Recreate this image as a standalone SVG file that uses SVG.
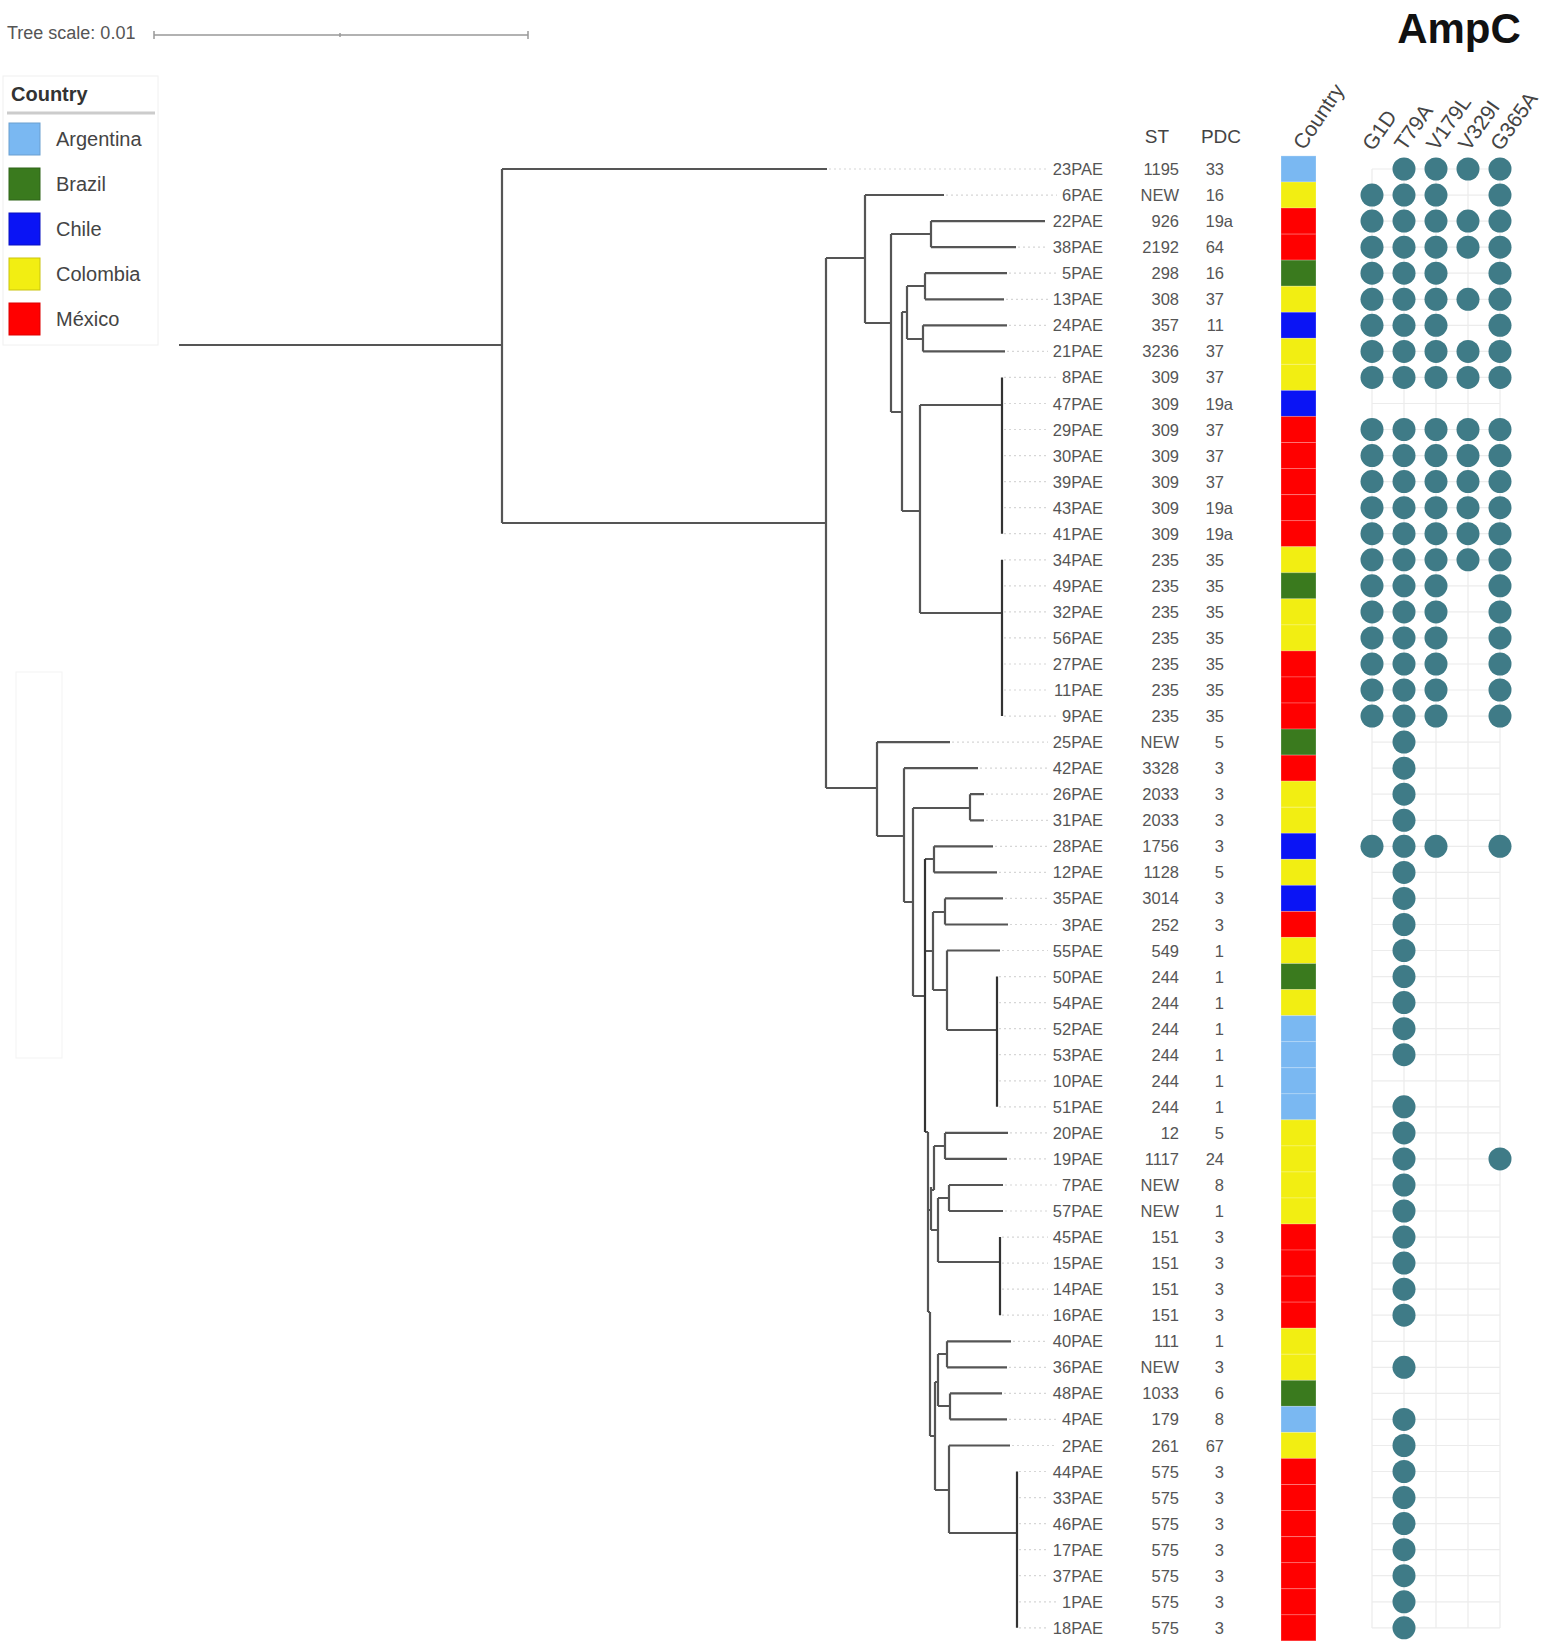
<svg xmlns="http://www.w3.org/2000/svg" width="1559" height="1651" viewBox="0 0 1559 1651">
<style>
.t{font-family:"Liberation Sans",Arial,sans-serif;font-size:16.5px;fill:#555}
.e{text-anchor:end}
.h{font-family:"Liberation Sans",Arial,sans-serif;font-size:20px;fill:#444}
.r{font-family:"Liberation Sans",Arial,sans-serif;font-size:21px;fill:#444}
.d{fill:#3f7b87}
.AR{fill:#7ab8f2}.BR{fill:#3a7a1e}.CL{fill:#0a14f5}.CO{fill:#f2ee12}.MX{fill:#ff0000}
.cell{stroke:#ffffff;stroke-opacity:0.25;stroke-width:1}
.tree{fill:none;stroke:#555;stroke-width:2.2}
.pol{fill:none;stroke:#333;stroke-width:2.2}
.lead{stroke:#d6d6d6;stroke-width:1.2;stroke-dasharray:2 3}
.g{stroke:#ececec;stroke-width:1.2;fill:none}
</style>
<rect width="1559" height="1651" fill="#fff"/>
<g id="tree-scale">
<text x="7" y="39" style="font-family:'Liberation Sans',Arial,sans-serif;font-size:18px;fill:#555">Tree scale: 0.01</text>
<path d="M154 35H528M154 31V39M528 31V39M340 33V37" stroke="#999" stroke-width="1.5" fill="none"/>
</g>
<text id="title" x="1459" y="43" text-anchor="middle" style="font-family:'Liberation Sans',Arial,sans-serif;font-size:42px;font-weight:bold;fill:#111">AmpC</text>
<g id="legend">
<rect x="3" y="76" width="155" height="269" fill="none" stroke="#f0f0f0"/>
<text x="11" y="101" style="font-family:'Liberation Sans',Arial,sans-serif;font-size:20px;font-weight:bold;fill:#333">Country</text>
<line x1="7" y1="113" x2="155" y2="113" stroke="#ccc" stroke-width="3"/>
<rect class="AR" x="9" y="123" width="31" height="32" stroke="#6a9fd0"/>
<rect class="BR" x="9" y="168" width="31" height="32" stroke="#2f6418"/>
<rect class="CL" x="9" y="213" width="31" height="32" stroke="#0810c0"/>
<rect class="CO" x="9" y="258" width="31" height="32" stroke="#c9c40e"/>
<rect class="MX" x="9" y="303" width="31" height="32" stroke="#d00"/>
<text class="h" x="56" y="146">Argentina</text>
<text class="h" x="56" y="191">Brazil</text>
<text class="h" x="56" y="236">Chile</text>
<text class="h" x="56" y="281">Colombia</text>
<text class="h" x="56" y="326">México</text>
</g>
<rect id="faint-box" x="16" y="672" width="46" height="386" fill="none" stroke="#f3f3f3"/>
<g id="headers">
<text x="1157" y="143" text-anchor="middle" style="font-family:'Liberation Sans',Arial,sans-serif;font-size:19px;fill:#444">ST</text>
<text x="1221" y="143" text-anchor="middle" style="font-family:'Liberation Sans',Arial,sans-serif;font-size:19px;fill:#444">PDC</text>
<text class="r" transform="translate(1304,151) rotate(-56)">Country</text>
<text class="r" transform="translate(1373,152) rotate(-55)">G1D</text>
<text class="r" transform="translate(1405,152) rotate(-55)">T79A</text>
<text class="r" transform="translate(1437,152) rotate(-55)">V179L</text>
<text class="r" transform="translate(1469,152) rotate(-55)">V329I</text>
<text class="r" transform="translate(1501,152) rotate(-55)">G365A</text>
</g>
<g id="grid">
<path class="g" d="M1372 169V1628M1404 169V1628M1436 169V1628M1468 169V1628M1500 169V1628"/>
</g>
<g id="connectors">
<path class="tree" d="M179 345H502M502 169V523M502 169H827M502 523H826
M826 258V788M826 258H865M865 195V323M865 195H944M865 323H891M891 234V412M891 234H931M931 221.1V247.2M931 221.1H1045M931 247.2H1016M891 412H902M902 312V511M902 312H907M907 286V339M907 286H925M925 273.2V299.3M925 273.2H1007M925 299.3H1004M907 339H923M923 325.3V351.4M923 325.3H1007M923 351.4H1005M902 511H920M920 405V613M920 405H1002M920 613H1002
M826 788H877M877 742.1V836M877 742.1H950M877 836H904M904 768.2V902M904 768.2H978M904 902H913M913 808V996M913 808H970M970 794.2V820.3M970 794.2H984M970 820.3H984M913 996H925
M925 859H934M934 846.3V872.4M934 846.3H993M934 872.4H997M925 951H933M933 912V990M933 912H945M945 898.4V924.5M945 898.4H1003M945 924.5H1008M933 990H947M947 950.5V1030M947 950.5H1000M947 1030H997
M925 1132H928M928 1132V1312M928 1210H931M931 1187V1230M931 1190H934M934 1146V1190M934 1146H945M945 1132.9V1158.9M945 1132.9H1008M945 1158.9H1007M931 1230H938M938 1198V1262M938 1198H949M949 1185V1211M949 1185H1003M949 1211H1003M938 1262H1000
M928 1312H930M930 1312V1436M930 1436H935M935 1382V1490M935 1382H938M938 1354V1406M938 1354H947M947 1341.3V1367.3M947 1341.3H1011M947 1367.3H1007M938 1406H950M950 1393.4V1419.4M950 1393.4H1002M950 1419.4H1007M935 1490H949M949 1445.5V1533M949 1445.5H1010M949 1533H1017"/>
<path class="pol" d="M925 859V1132M1002 377.4V533.7M1002 559.8V716.1M997 976.6V1106.8M1000 1237.1V1315.2M1017 1471.5V1627.8"/>
</g>
<g id="leaves">
<g id="n23PAE" transform="translate(0,169)"><path class="lead" d="M829 0H1048"/><path class="g" d="M1372 0H1500"/><text class="t e" x="1103" y="6">23PAE</text><text class="t e" x="1179" y="6">1195</text><text class="t e" x="1224" y="6">33</text><rect class="AR cell" x="1281" y="-13.1" width="35" height="26.2"/><circle class="d" cx="1404" r="11.5"/><circle class="d" cx="1436" r="11.5"/><circle class="d" cx="1468" r="11.5"/><circle class="d" cx="1500" r="11.5"/></g>
<g id="n6PAE" transform="translate(0,195.1)"><path class="lead" d="M946 0H1057"/><path class="g" d="M1372 0H1500"/><text class="t e" x="1103" y="6">6PAE</text><text class="t e" x="1179" y="6">NEW</text><text class="t e" x="1224" y="6">16</text><rect class="CO cell" x="1281" y="-13.1" width="35" height="26.2"/><circle class="d" cx="1372" r="11.5"/><circle class="d" cx="1404" r="11.5"/><circle class="d" cx="1436" r="11.5"/><circle class="d" cx="1500" r="11.5"/></g>
<g id="n22PAE" transform="translate(0,221.1)"><path class="g" d="M1372 0H1500"/><text class="t e" x="1103" y="6">22PAE</text><text class="t e" x="1179" y="6">926</text><text class="t e" x="1233" y="6">19a</text><rect class="MX cell" x="1281" y="-13.1" width="35" height="26.2"/><circle class="d" cx="1372" r="11.5"/><circle class="d" cx="1404" r="11.5"/><circle class="d" cx="1436" r="11.5"/><circle class="d" cx="1468" r="11.5"/><circle class="d" cx="1500" r="11.5"/></g>
<g id="n38PAE" transform="translate(0,247.2)"><path class="lead" d="M1018 0H1048"/><path class="g" d="M1372 0H1500"/><text class="t e" x="1103" y="6">38PAE</text><text class="t e" x="1179" y="6">2192</text><text class="t e" x="1224" y="6">64</text><rect class="MX cell" x="1281" y="-13.1" width="35" height="26.2"/><circle class="d" cx="1372" r="11.5"/><circle class="d" cx="1404" r="11.5"/><circle class="d" cx="1436" r="11.5"/><circle class="d" cx="1468" r="11.5"/><circle class="d" cx="1500" r="11.5"/></g>
<g id="n5PAE" transform="translate(0,273.2)"><path class="lead" d="M1009 0H1057"/><path class="g" d="M1372 0H1500"/><text class="t e" x="1103" y="6">5PAE</text><text class="t e" x="1179" y="6">298</text><text class="t e" x="1224" y="6">16</text><rect class="BR cell" x="1281" y="-13.1" width="35" height="26.2"/><circle class="d" cx="1372" r="11.5"/><circle class="d" cx="1404" r="11.5"/><circle class="d" cx="1436" r="11.5"/><circle class="d" cx="1500" r="11.5"/></g>
<g id="n13PAE" transform="translate(0,299.3)"><path class="lead" d="M1006 0H1048"/><path class="g" d="M1372 0H1500"/><text class="t e" x="1103" y="6">13PAE</text><text class="t e" x="1179" y="6">308</text><text class="t e" x="1224" y="6">37</text><rect class="CO cell" x="1281" y="-13.1" width="35" height="26.2"/><circle class="d" cx="1372" r="11.5"/><circle class="d" cx="1404" r="11.5"/><circle class="d" cx="1436" r="11.5"/><circle class="d" cx="1468" r="11.5"/><circle class="d" cx="1500" r="11.5"/></g>
<g id="n24PAE" transform="translate(0,325.3)"><path class="lead" d="M1009 0H1048"/><path class="g" d="M1372 0H1500"/><text class="t e" x="1103" y="6">24PAE</text><text class="t e" x="1179" y="6">357</text><text class="t e" x="1224" y="6">11</text><rect class="CL cell" x="1281" y="-13.1" width="35" height="26.2"/><circle class="d" cx="1372" r="11.5"/><circle class="d" cx="1404" r="11.5"/><circle class="d" cx="1436" r="11.5"/><circle class="d" cx="1500" r="11.5"/></g>
<g id="n21PAE" transform="translate(0,351.4)"><path class="lead" d="M1007 0H1048"/><path class="g" d="M1372 0H1500"/><text class="t e" x="1103" y="6">21PAE</text><text class="t e" x="1179" y="6">3236</text><text class="t e" x="1224" y="6">37</text><rect class="CO cell" x="1281" y="-13.1" width="35" height="26.2"/><circle class="d" cx="1372" r="11.5"/><circle class="d" cx="1404" r="11.5"/><circle class="d" cx="1436" r="11.5"/><circle class="d" cx="1468" r="11.5"/><circle class="d" cx="1500" r="11.5"/></g>
<g id="n8PAE" transform="translate(0,377.4)"><path class="lead" d="M1004 0H1057"/><path class="g" d="M1372 0H1500"/><text class="t e" x="1103" y="6">8PAE</text><text class="t e" x="1179" y="6">309</text><text class="t e" x="1224" y="6">37</text><rect class="CO cell" x="1281" y="-13.1" width="35" height="26.2"/><circle class="d" cx="1372" r="11.5"/><circle class="d" cx="1404" r="11.5"/><circle class="d" cx="1436" r="11.5"/><circle class="d" cx="1468" r="11.5"/><circle class="d" cx="1500" r="11.5"/></g>
<g id="n47PAE" transform="translate(0,403.5)"><path class="lead" d="M1004 0H1048"/><path class="g" d="M1372 0H1500"/><text class="t e" x="1103" y="6">47PAE</text><text class="t e" x="1179" y="6">309</text><text class="t e" x="1233" y="6">19a</text><rect class="CL cell" x="1281" y="-13.1" width="35" height="26.2"/></g>
<g id="n29PAE" transform="translate(0,429.5)"><path class="lead" d="M1004 0H1048"/><path class="g" d="M1372 0H1500"/><text class="t e" x="1103" y="6">29PAE</text><text class="t e" x="1179" y="6">309</text><text class="t e" x="1224" y="6">37</text><rect class="MX cell" x="1281" y="-13.1" width="35" height="26.2"/><circle class="d" cx="1372" r="11.5"/><circle class="d" cx="1404" r="11.5"/><circle class="d" cx="1436" r="11.5"/><circle class="d" cx="1468" r="11.5"/><circle class="d" cx="1500" r="11.5"/></g>
<g id="n30PAE" transform="translate(0,455.6)"><path class="lead" d="M1004 0H1048"/><path class="g" d="M1372 0H1500"/><text class="t e" x="1103" y="6">30PAE</text><text class="t e" x="1179" y="6">309</text><text class="t e" x="1224" y="6">37</text><rect class="MX cell" x="1281" y="-13.1" width="35" height="26.2"/><circle class="d" cx="1372" r="11.5"/><circle class="d" cx="1404" r="11.5"/><circle class="d" cx="1436" r="11.5"/><circle class="d" cx="1468" r="11.5"/><circle class="d" cx="1500" r="11.5"/></g>
<g id="n39PAE" transform="translate(0,481.6)"><path class="lead" d="M1004 0H1048"/><path class="g" d="M1372 0H1500"/><text class="t e" x="1103" y="6">39PAE</text><text class="t e" x="1179" y="6">309</text><text class="t e" x="1224" y="6">37</text><rect class="MX cell" x="1281" y="-13.1" width="35" height="26.2"/><circle class="d" cx="1372" r="11.5"/><circle class="d" cx="1404" r="11.5"/><circle class="d" cx="1436" r="11.5"/><circle class="d" cx="1468" r="11.5"/><circle class="d" cx="1500" r="11.5"/></g>
<g id="n43PAE" transform="translate(0,507.7)"><path class="lead" d="M1004 0H1048"/><path class="g" d="M1372 0H1500"/><text class="t e" x="1103" y="6">43PAE</text><text class="t e" x="1179" y="6">309</text><text class="t e" x="1233" y="6">19a</text><rect class="MX cell" x="1281" y="-13.1" width="35" height="26.2"/><circle class="d" cx="1372" r="11.5"/><circle class="d" cx="1404" r="11.5"/><circle class="d" cx="1436" r="11.5"/><circle class="d" cx="1468" r="11.5"/><circle class="d" cx="1500" r="11.5"/></g>
<g id="n41PAE" transform="translate(0,533.7)"><path class="lead" d="M1004 0H1048"/><path class="g" d="M1372 0H1500"/><text class="t e" x="1103" y="6">41PAE</text><text class="t e" x="1179" y="6">309</text><text class="t e" x="1233" y="6">19a</text><rect class="MX cell" x="1281" y="-13.1" width="35" height="26.2"/><circle class="d" cx="1372" r="11.5"/><circle class="d" cx="1404" r="11.5"/><circle class="d" cx="1436" r="11.5"/><circle class="d" cx="1468" r="11.5"/><circle class="d" cx="1500" r="11.5"/></g>
<g id="n34PAE" transform="translate(0,559.8)"><path class="lead" d="M1004 0H1048"/><path class="g" d="M1372 0H1500"/><text class="t e" x="1103" y="6">34PAE</text><text class="t e" x="1179" y="6">235</text><text class="t e" x="1224" y="6">35</text><rect class="CO cell" x="1281" y="-13.1" width="35" height="26.2"/><circle class="d" cx="1372" r="11.5"/><circle class="d" cx="1404" r="11.5"/><circle class="d" cx="1436" r="11.5"/><circle class="d" cx="1468" r="11.5"/><circle class="d" cx="1500" r="11.5"/></g>
<g id="n49PAE" transform="translate(0,585.8)"><path class="lead" d="M1004 0H1048"/><path class="g" d="M1372 0H1500"/><text class="t e" x="1103" y="6">49PAE</text><text class="t e" x="1179" y="6">235</text><text class="t e" x="1224" y="6">35</text><rect class="BR cell" x="1281" y="-13.1" width="35" height="26.2"/><circle class="d" cx="1372" r="11.5"/><circle class="d" cx="1404" r="11.5"/><circle class="d" cx="1436" r="11.5"/><circle class="d" cx="1500" r="11.5"/></g>
<g id="n32PAE" transform="translate(0,611.9)"><path class="lead" d="M1004 0H1048"/><path class="g" d="M1372 0H1500"/><text class="t e" x="1103" y="6">32PAE</text><text class="t e" x="1179" y="6">235</text><text class="t e" x="1224" y="6">35</text><rect class="CO cell" x="1281" y="-13.1" width="35" height="26.2"/><circle class="d" cx="1372" r="11.5"/><circle class="d" cx="1404" r="11.5"/><circle class="d" cx="1436" r="11.5"/><circle class="d" cx="1500" r="11.5"/></g>
<g id="n56PAE" transform="translate(0,637.9)"><path class="lead" d="M1004 0H1048"/><path class="g" d="M1372 0H1500"/><text class="t e" x="1103" y="6">56PAE</text><text class="t e" x="1179" y="6">235</text><text class="t e" x="1224" y="6">35</text><rect class="CO cell" x="1281" y="-13.1" width="35" height="26.2"/><circle class="d" cx="1372" r="11.5"/><circle class="d" cx="1404" r="11.5"/><circle class="d" cx="1436" r="11.5"/><circle class="d" cx="1500" r="11.5"/></g>
<g id="n27PAE" transform="translate(0,664)"><path class="lead" d="M1004 0H1048"/><path class="g" d="M1372 0H1500"/><text class="t e" x="1103" y="6">27PAE</text><text class="t e" x="1179" y="6">235</text><text class="t e" x="1224" y="6">35</text><rect class="MX cell" x="1281" y="-13.1" width="35" height="26.2"/><circle class="d" cx="1372" r="11.5"/><circle class="d" cx="1404" r="11.5"/><circle class="d" cx="1436" r="11.5"/><circle class="d" cx="1500" r="11.5"/></g>
<g id="n11PAE" transform="translate(0,690)"><path class="lead" d="M1004 0H1048"/><path class="g" d="M1372 0H1500"/><text class="t e" x="1103" y="6">11PAE</text><text class="t e" x="1179" y="6">235</text><text class="t e" x="1224" y="6">35</text><rect class="MX cell" x="1281" y="-13.1" width="35" height="26.2"/><circle class="d" cx="1372" r="11.5"/><circle class="d" cx="1404" r="11.5"/><circle class="d" cx="1436" r="11.5"/><circle class="d" cx="1500" r="11.5"/></g>
<g id="n9PAE" transform="translate(0,716.1)"><path class="lead" d="M1004 0H1057"/><path class="g" d="M1372 0H1500"/><text class="t e" x="1103" y="6">9PAE</text><text class="t e" x="1179" y="6">235</text><text class="t e" x="1224" y="6">35</text><rect class="MX cell" x="1281" y="-13.1" width="35" height="26.2"/><circle class="d" cx="1372" r="11.5"/><circle class="d" cx="1404" r="11.5"/><circle class="d" cx="1436" r="11.5"/><circle class="d" cx="1500" r="11.5"/></g>
<g id="n25PAE" transform="translate(0,742.1)"><path class="lead" d="M952 0H1048"/><path class="g" d="M1372 0H1500"/><text class="t e" x="1103" y="6">25PAE</text><text class="t e" x="1179" y="6">NEW</text><text class="t e" x="1224" y="6">5</text><rect class="BR cell" x="1281" y="-13.1" width="35" height="26.2"/><circle class="d" cx="1404" r="11.5"/></g>
<g id="n42PAE" transform="translate(0,768.2)"><path class="lead" d="M980 0H1048"/><path class="g" d="M1372 0H1500"/><text class="t e" x="1103" y="6">42PAE</text><text class="t e" x="1179" y="6">3328</text><text class="t e" x="1224" y="6">3</text><rect class="MX cell" x="1281" y="-13.1" width="35" height="26.2"/><circle class="d" cx="1404" r="11.5"/></g>
<g id="n26PAE" transform="translate(0,794.2)"><path class="lead" d="M986 0H1048"/><path class="g" d="M1372 0H1500"/><text class="t e" x="1103" y="6">26PAE</text><text class="t e" x="1179" y="6">2033</text><text class="t e" x="1224" y="6">3</text><rect class="CO cell" x="1281" y="-13.1" width="35" height="26.2"/><circle class="d" cx="1404" r="11.5"/></g>
<g id="n31PAE" transform="translate(0,820.3)"><path class="lead" d="M986 0H1048"/><path class="g" d="M1372 0H1500"/><text class="t e" x="1103" y="6">31PAE</text><text class="t e" x="1179" y="6">2033</text><text class="t e" x="1224" y="6">3</text><rect class="CO cell" x="1281" y="-13.1" width="35" height="26.2"/><circle class="d" cx="1404" r="11.5"/></g>
<g id="n28PAE" transform="translate(0,846.3)"><path class="lead" d="M995 0H1048"/><path class="g" d="M1372 0H1500"/><text class="t e" x="1103" y="6">28PAE</text><text class="t e" x="1179" y="6">1756</text><text class="t e" x="1224" y="6">3</text><rect class="CL cell" x="1281" y="-13.1" width="35" height="26.2"/><circle class="d" cx="1372" r="11.5"/><circle class="d" cx="1404" r="11.5"/><circle class="d" cx="1436" r="11.5"/><circle class="d" cx="1500" r="11.5"/></g>
<g id="n12PAE" transform="translate(0,872.4)"><path class="lead" d="M999 0H1048"/><path class="g" d="M1372 0H1500"/><text class="t e" x="1103" y="6">12PAE</text><text class="t e" x="1179" y="6">1128</text><text class="t e" x="1224" y="6">5</text><rect class="CO cell" x="1281" y="-13.1" width="35" height="26.2"/><circle class="d" cx="1404" r="11.5"/></g>
<g id="n35PAE" transform="translate(0,898.4)"><path class="lead" d="M1005 0H1048"/><path class="g" d="M1372 0H1500"/><text class="t e" x="1103" y="6">35PAE</text><text class="t e" x="1179" y="6">3014</text><text class="t e" x="1224" y="6">3</text><rect class="CL cell" x="1281" y="-13.1" width="35" height="26.2"/><circle class="d" cx="1404" r="11.5"/></g>
<g id="n3PAE" transform="translate(0,924.5)"><path class="lead" d="M1010 0H1057"/><path class="g" d="M1372 0H1500"/><text class="t e" x="1103" y="6">3PAE</text><text class="t e" x="1179" y="6">252</text><text class="t e" x="1224" y="6">3</text><rect class="MX cell" x="1281" y="-13.1" width="35" height="26.2"/><circle class="d" cx="1404" r="11.5"/></g>
<g id="n55PAE" transform="translate(0,950.5)"><path class="lead" d="M1002 0H1048"/><path class="g" d="M1372 0H1500"/><text class="t e" x="1103" y="6">55PAE</text><text class="t e" x="1179" y="6">549</text><text class="t e" x="1224" y="6">1</text><rect class="CO cell" x="1281" y="-13.1" width="35" height="26.2"/><circle class="d" cx="1404" r="11.5"/></g>
<g id="n50PAE" transform="translate(0,976.6)"><path class="lead" d="M999 0H1048"/><path class="g" d="M1372 0H1500"/><text class="t e" x="1103" y="6">50PAE</text><text class="t e" x="1179" y="6">244</text><text class="t e" x="1224" y="6">1</text><rect class="BR cell" x="1281" y="-13.1" width="35" height="26.2"/><circle class="d" cx="1404" r="11.5"/></g>
<g id="n54PAE" transform="translate(0,1002.6)"><path class="lead" d="M999 0H1048"/><path class="g" d="M1372 0H1500"/><text class="t e" x="1103" y="6">54PAE</text><text class="t e" x="1179" y="6">244</text><text class="t e" x="1224" y="6">1</text><rect class="CO cell" x="1281" y="-13.1" width="35" height="26.2"/><circle class="d" cx="1404" r="11.5"/></g>
<g id="n52PAE" transform="translate(0,1028.7)"><path class="lead" d="M999 0H1048"/><path class="g" d="M1372 0H1500"/><text class="t e" x="1103" y="6">52PAE</text><text class="t e" x="1179" y="6">244</text><text class="t e" x="1224" y="6">1</text><rect class="AR cell" x="1281" y="-13.1" width="35" height="26.2"/><circle class="d" cx="1404" r="11.5"/></g>
<g id="n53PAE" transform="translate(0,1054.7)"><path class="lead" d="M999 0H1048"/><path class="g" d="M1372 0H1500"/><text class="t e" x="1103" y="6">53PAE</text><text class="t e" x="1179" y="6">244</text><text class="t e" x="1224" y="6">1</text><rect class="AR cell" x="1281" y="-13.1" width="35" height="26.2"/><circle class="d" cx="1404" r="11.5"/></g>
<g id="n10PAE" transform="translate(0,1080.8)"><path class="lead" d="M999 0H1048"/><path class="g" d="M1372 0H1500"/><text class="t e" x="1103" y="6">10PAE</text><text class="t e" x="1179" y="6">244</text><text class="t e" x="1224" y="6">1</text><rect class="AR cell" x="1281" y="-13.1" width="35" height="26.2"/></g>
<g id="n51PAE" transform="translate(0,1106.8)"><path class="lead" d="M999 0H1048"/><path class="g" d="M1372 0H1500"/><text class="t e" x="1103" y="6">51PAE</text><text class="t e" x="1179" y="6">244</text><text class="t e" x="1224" y="6">1</text><rect class="AR cell" x="1281" y="-13.1" width="35" height="26.2"/><circle class="d" cx="1404" r="11.5"/></g>
<g id="n20PAE" transform="translate(0,1132.9)"><path class="lead" d="M1010 0H1048"/><path class="g" d="M1372 0H1500"/><text class="t e" x="1103" y="6">20PAE</text><text class="t e" x="1179" y="6">12</text><text class="t e" x="1224" y="6">5</text><rect class="CO cell" x="1281" y="-13.1" width="35" height="26.2"/><circle class="d" cx="1404" r="11.5"/></g>
<g id="n19PAE" transform="translate(0,1158.9)"><path class="lead" d="M1009 0H1048"/><path class="g" d="M1372 0H1500"/><text class="t e" x="1103" y="6">19PAE</text><text class="t e" x="1179" y="6">1117</text><text class="t e" x="1224" y="6">24</text><rect class="CO cell" x="1281" y="-13.1" width="35" height="26.2"/><circle class="d" cx="1404" r="11.5"/><circle class="d" cx="1500" r="11.5"/></g>
<g id="n7PAE" transform="translate(0,1185)"><path class="lead" d="M1005 0H1057"/><path class="g" d="M1372 0H1500"/><text class="t e" x="1103" y="6">7PAE</text><text class="t e" x="1179" y="6">NEW</text><text class="t e" x="1224" y="6">8</text><rect class="CO cell" x="1281" y="-13.1" width="35" height="26.2"/><circle class="d" cx="1404" r="11.5"/></g>
<g id="n57PAE" transform="translate(0,1211)"><path class="lead" d="M1005 0H1048"/><path class="g" d="M1372 0H1500"/><text class="t e" x="1103" y="6">57PAE</text><text class="t e" x="1179" y="6">NEW</text><text class="t e" x="1224" y="6">1</text><rect class="CO cell" x="1281" y="-13.1" width="35" height="26.2"/><circle class="d" cx="1404" r="11.5"/></g>
<g id="n45PAE" transform="translate(0,1237.1)"><path class="lead" d="M1002 0H1048"/><path class="g" d="M1372 0H1500"/><text class="t e" x="1103" y="6">45PAE</text><text class="t e" x="1179" y="6">151</text><text class="t e" x="1224" y="6">3</text><rect class="MX cell" x="1281" y="-13.1" width="35" height="26.2"/><circle class="d" cx="1404" r="11.5"/></g>
<g id="n15PAE" transform="translate(0,1263.1)"><path class="lead" d="M1002 0H1048"/><path class="g" d="M1372 0H1500"/><text class="t e" x="1103" y="6">15PAE</text><text class="t e" x="1179" y="6">151</text><text class="t e" x="1224" y="6">3</text><rect class="MX cell" x="1281" y="-13.1" width="35" height="26.2"/><circle class="d" cx="1404" r="11.5"/></g>
<g id="n14PAE" transform="translate(0,1289.2)"><path class="lead" d="M1002 0H1048"/><path class="g" d="M1372 0H1500"/><text class="t e" x="1103" y="6">14PAE</text><text class="t e" x="1179" y="6">151</text><text class="t e" x="1224" y="6">3</text><rect class="MX cell" x="1281" y="-13.1" width="35" height="26.2"/><circle class="d" cx="1404" r="11.5"/></g>
<g id="n16PAE" transform="translate(0,1315.2)"><path class="lead" d="M1002 0H1048"/><path class="g" d="M1372 0H1500"/><text class="t e" x="1103" y="6">16PAE</text><text class="t e" x="1179" y="6">151</text><text class="t e" x="1224" y="6">3</text><rect class="MX cell" x="1281" y="-13.1" width="35" height="26.2"/><circle class="d" cx="1404" r="11.5"/></g>
<g id="n40PAE" transform="translate(0,1341.3)"><path class="lead" d="M1013 0H1048"/><path class="g" d="M1372 0H1500"/><text class="t e" x="1103" y="6">40PAE</text><text class="t e" x="1179" y="6">111</text><text class="t e" x="1224" y="6">1</text><rect class="CO cell" x="1281" y="-13.1" width="35" height="26.2"/></g>
<g id="n36PAE" transform="translate(0,1367.3)"><path class="lead" d="M1009 0H1048"/><path class="g" d="M1372 0H1500"/><text class="t e" x="1103" y="6">36PAE</text><text class="t e" x="1179" y="6">NEW</text><text class="t e" x="1224" y="6">3</text><rect class="CO cell" x="1281" y="-13.1" width="35" height="26.2"/><circle class="d" cx="1404" r="11.5"/></g>
<g id="n48PAE" transform="translate(0,1393.4)"><path class="lead" d="M1004 0H1048"/><path class="g" d="M1372 0H1500"/><text class="t e" x="1103" y="6">48PAE</text><text class="t e" x="1179" y="6">1033</text><text class="t e" x="1224" y="6">6</text><rect class="BR cell" x="1281" y="-13.1" width="35" height="26.2"/></g>
<g id="n4PAE" transform="translate(0,1419.4)"><path class="lead" d="M1009 0H1057"/><path class="g" d="M1372 0H1500"/><text class="t e" x="1103" y="6">4PAE</text><text class="t e" x="1179" y="6">179</text><text class="t e" x="1224" y="6">8</text><rect class="AR cell" x="1281" y="-13.1" width="35" height="26.2"/><circle class="d" cx="1404" r="11.5"/></g>
<g id="n2PAE" transform="translate(0,1445.5)"><path class="lead" d="M1012 0H1057"/><path class="g" d="M1372 0H1500"/><text class="t e" x="1103" y="6">2PAE</text><text class="t e" x="1179" y="6">261</text><text class="t e" x="1224" y="6">67</text><rect class="CO cell" x="1281" y="-13.1" width="35" height="26.2"/><circle class="d" cx="1404" r="11.5"/></g>
<g id="n44PAE" transform="translate(0,1471.5)"><path class="lead" d="M1019 0H1048"/><path class="g" d="M1372 0H1500"/><text class="t e" x="1103" y="6">44PAE</text><text class="t e" x="1179" y="6">575</text><text class="t e" x="1224" y="6">3</text><rect class="MX cell" x="1281" y="-13.1" width="35" height="26.2"/><circle class="d" cx="1404" r="11.5"/></g>
<g id="n33PAE" transform="translate(0,1497.6)"><path class="lead" d="M1019 0H1048"/><path class="g" d="M1372 0H1500"/><text class="t e" x="1103" y="6">33PAE</text><text class="t e" x="1179" y="6">575</text><text class="t e" x="1224" y="6">3</text><rect class="MX cell" x="1281" y="-13.1" width="35" height="26.2"/><circle class="d" cx="1404" r="11.5"/></g>
<g id="n46PAE" transform="translate(0,1523.6)"><path class="lead" d="M1019 0H1048"/><path class="g" d="M1372 0H1500"/><text class="t e" x="1103" y="6">46PAE</text><text class="t e" x="1179" y="6">575</text><text class="t e" x="1224" y="6">3</text><rect class="MX cell" x="1281" y="-13.1" width="35" height="26.2"/><circle class="d" cx="1404" r="11.5"/></g>
<g id="n17PAE" transform="translate(0,1549.7)"><path class="lead" d="M1019 0H1048"/><path class="g" d="M1372 0H1500"/><text class="t e" x="1103" y="6">17PAE</text><text class="t e" x="1179" y="6">575</text><text class="t e" x="1224" y="6">3</text><rect class="MX cell" x="1281" y="-13.1" width="35" height="26.2"/><circle class="d" cx="1404" r="11.5"/></g>
<g id="n37PAE" transform="translate(0,1575.7)"><path class="lead" d="M1019 0H1048"/><path class="g" d="M1372 0H1500"/><text class="t e" x="1103" y="6">37PAE</text><text class="t e" x="1179" y="6">575</text><text class="t e" x="1224" y="6">3</text><rect class="MX cell" x="1281" y="-13.1" width="35" height="26.2"/><circle class="d" cx="1404" r="11.5"/></g>
<g id="n1PAE" transform="translate(0,1601.8)"><path class="lead" d="M1019 0H1057"/><path class="g" d="M1372 0H1500"/><text class="t e" x="1103" y="6">1PAE</text><text class="t e" x="1179" y="6">575</text><text class="t e" x="1224" y="6">3</text><rect class="MX cell" x="1281" y="-13.1" width="35" height="26.2"/><circle class="d" cx="1404" r="11.5"/></g>
<g id="n18PAE" transform="translate(0,1627.8)"><path class="lead" d="M1019 0H1048"/><path class="g" d="M1372 0H1500"/><text class="t e" x="1103" y="6">18PAE</text><text class="t e" x="1179" y="6">575</text><text class="t e" x="1224" y="6">3</text><rect class="MX cell" x="1281" y="-13.1" width="35" height="26.2"/><circle class="d" cx="1404" r="11.5"/></g>
</g>
</svg>
